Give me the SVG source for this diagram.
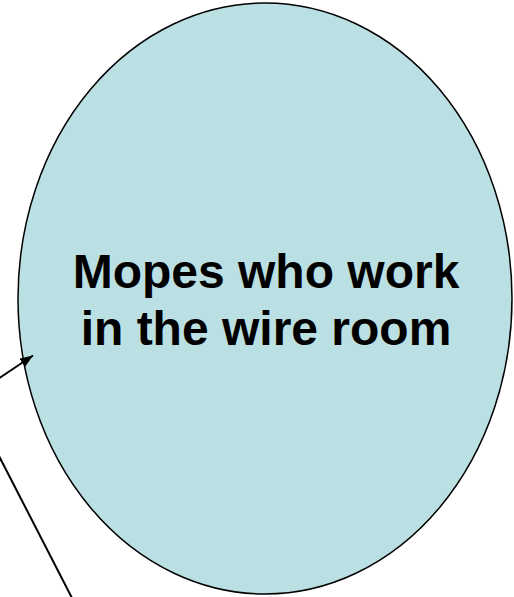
<svg xmlns="http://www.w3.org/2000/svg" width="514" height="597" viewBox="0 0 514 597">
<style>
.lbl{font-family:"Liberation Sans",Arial,sans-serif;font-weight:bold;font-size:48px;fill:#000;text-anchor:middle}
.conn{stroke:#000;stroke-width:2;fill:none}
</style>
<defs>
<marker id="ah" viewBox="0 0 13 10" refX="13" refY="5" markerWidth="6.5" markerHeight="5" orient="auto" markerUnits="strokeWidth">
<path d="M0,0 L13,5 L0,10 z" fill="#000"/>
</marker>
</defs>
<rect width="514" height="597" fill="#fff"/>
<g id="node-mopes">
<ellipse cx="265" cy="298.5" rx="247" ry="295.5" fill="#BBE0E3" stroke="#000" stroke-width="1.5"/>
<text class="lbl" x="266" y="288">Mopes who work</text>
<text class="lbl" x="266" y="345">in the wire room</text>
</g>
<g id="connectors">
<line class="conn" x1="-2" y1="379" x2="33" y2="355.5" marker-end="url(#ah)"/>
<line class="conn" x1="-1" y1="456" x2="72" y2="598"/>
</g>
</svg>
